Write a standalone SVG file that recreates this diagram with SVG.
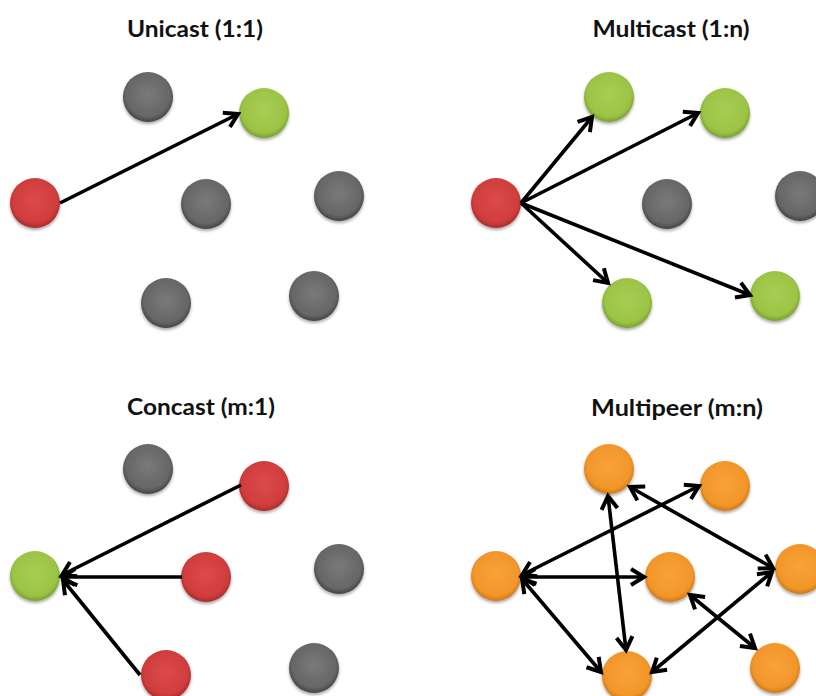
<svg xmlns="http://www.w3.org/2000/svg" width="816" height="696" viewBox="0 0 816 696">
<defs>
<radialGradient id="gGray" cx="50%" cy="45%" r="55%">
<stop offset="0" stop-color="#7a7a7a"/><stop offset="0.8" stop-color="#666666"/><stop offset="1" stop-color="#444444"/>
</radialGradient>
<radialGradient id="gRed" cx="50%" cy="45%" r="55%">
<stop offset="0" stop-color="#dc4b4b"/><stop offset="0.8" stop-color="#d03d3d"/><stop offset="1" stop-color="#a82b2b"/>
</radialGradient>
<radialGradient id="gGreen" cx="50%" cy="45%" r="55%">
<stop offset="0" stop-color="#a8cd55"/><stop offset="0.8" stop-color="#9bc445"/><stop offset="1" stop-color="#78a02e"/>
</radialGradient>
<radialGradient id="gOrange" cx="50%" cy="45%" r="55%">
<stop offset="0" stop-color="#f8a23a"/><stop offset="0.8" stop-color="#f2962a"/><stop offset="1" stop-color="#cf7a16"/>
</radialGradient>
<filter id="sh" x="-30%" y="-30%" width="160%" height="170%">
<feDropShadow dx="0" dy="2" stdDeviation="1.5" flood-color="#000" flood-opacity="0.35"/>
</filter>
<marker id="ah" markerUnits="userSpaceOnUse" markerWidth="22" markerHeight="22" viewBox="0 0 22 22" refX="18" refY="11" orient="auto-start-reverse">
<path d="M5,3 L18,11 L5,19" fill="none" stroke="#000" stroke-width="4"/>
</marker>
<style>
.t{font-family:Lato,"Open Sans","Liberation Sans",sans-serif;font-weight:bold;font-size:22.5px;fill:#111;text-anchor:middle}
.n{filter:url(#sh)}
.gray{fill:url(#gGray)}
.red{fill:url(#gRed)}
.green{fill:url(#gGreen)}
.orange{fill:url(#gOrange)}
.e{stroke:#000;stroke-width:3.6;fill:none}
.one{marker-end:url(#ah)}
.two{marker-start:url(#ah);marker-end:url(#ah)}
</style>
</defs>
<rect width="816" height="696" fill="#fff"/>

<g id="titles">
<text class="t" x="195" y="37" textLength="136" lengthAdjust="spacingAndGlyphs">Unicast (1:1)</text>
<text class="t" x="671" y="37" textLength="157" lengthAdjust="spacingAndGlyphs">Multicast (1:n)</text>
<text class="t" x="201" y="415" textLength="148" lengthAdjust="spacingAndGlyphs">Concast (m:1)</text>
<text class="t" x="677" y="416" textLength="172" lengthAdjust="spacingAndGlyphs">Multipeer (m:n)</text>
</g>

<!-- Unicast -->
<g id="u1"><circle class="n gray" cx="148" cy="97" r="25"/></g>
<g id="u2"><circle class="n green" cx="264" cy="113" r="25"/></g>
<g id="u3"><circle class="n red" cx="35" cy="203" r="25"/></g>
<g id="u4"><circle class="n gray" cx="206" cy="204" r="25"/></g>
<g id="u5"><circle class="n gray" cx="339" cy="196" r="25"/></g>
<g id="u6"><circle class="n gray" cx="166" cy="303" r="25"/></g>
<g id="u7"><circle class="n gray" cx="314" cy="296" r="25"/></g>

<!-- Multicast -->
<g id="m1"><circle class="n green" cx="609" cy="97" r="25"/></g>
<g id="m2"><circle class="n green" cx="725" cy="113" r="25"/></g>
<g id="m3"><circle class="n red" cx="496" cy="203" r="25"/></g>
<g id="m4"><circle class="n gray" cx="667" cy="204" r="25"/></g>
<g id="m5"><circle class="n gray" cx="800" cy="196" r="25"/></g>
<g id="m6"><circle class="n green" cx="627" cy="303" r="25"/></g>
<g id="m7"><circle class="n green" cx="775" cy="296" r="25"/></g>

<!-- Concast -->
<g id="c1"><circle class="n gray" cx="148" cy="469" r="25"/></g>
<g id="c2"><circle class="n red" cx="264" cy="486" r="25"/></g>
<g id="c3"><circle class="n green" cx="35" cy="576" r="25"/></g>
<g id="c4"><circle class="n red" cx="206" cy="577" r="25"/></g>
<g id="c5"><circle class="n gray" cx="339" cy="569" r="25"/></g>
<g id="c6"><circle class="n red" cx="166" cy="675" r="25"/></g>
<g id="c7"><circle class="n gray" cx="314" cy="668" r="25"/></g>

<!-- Multipeer -->
<g id="p1"><circle class="n orange" cx="609" cy="469" r="25"/></g>
<g id="p2"><circle class="n orange" cx="725" cy="486" r="25"/></g>
<g id="p3"><circle class="n orange" cx="496" cy="576" r="25"/></g>
<g id="p4"><circle class="n orange" cx="670" cy="577" r="25"/></g>
<g id="p5"><circle class="n orange" cx="800" cy="569" r="25"/></g>
<g id="p6"><circle class="n orange" cx="775" cy="668" r="25"/></g>
<g id="p7"><circle class="n orange" cx="627" cy="676" r="25"/></g>

<g id="connectors">
<line class="e one" x1="60" y1="203" x2="238" y2="114"/>

<line class="e one" x1="521" y1="203" x2="592" y2="117"/>
<line class="e one" x1="521" y1="203" x2="698" y2="113"/>
<line class="e one" x1="521" y1="203" x2="608" y2="283"/>
<line class="e one" x1="521" y1="203" x2="750" y2="295"/>

<line class="e one" x1="241" y1="485" x2="62" y2="575"/>
<line class="e one" x1="182" y1="577" x2="62" y2="577"/>
<line class="e one" x1="140" y1="675" x2="63" y2="580"/>

<line class="e two" x1="522" y1="575" x2="699" y2="486"/>
<line class="e two" x1="608" y1="496" x2="626" y2="650"/>
<line class="e two" x1="630" y1="487" x2="773" y2="568"/>
<line class="e two" x1="522" y1="577" x2="644" y2="577"/>
<line class="e two" x1="522" y1="579" x2="601" y2="672"/>
<line class="e two" x1="652" y1="672" x2="772" y2="572"/>
<line class="e two" x1="690" y1="595" x2="755" y2="648"/>
</g>
</svg>
